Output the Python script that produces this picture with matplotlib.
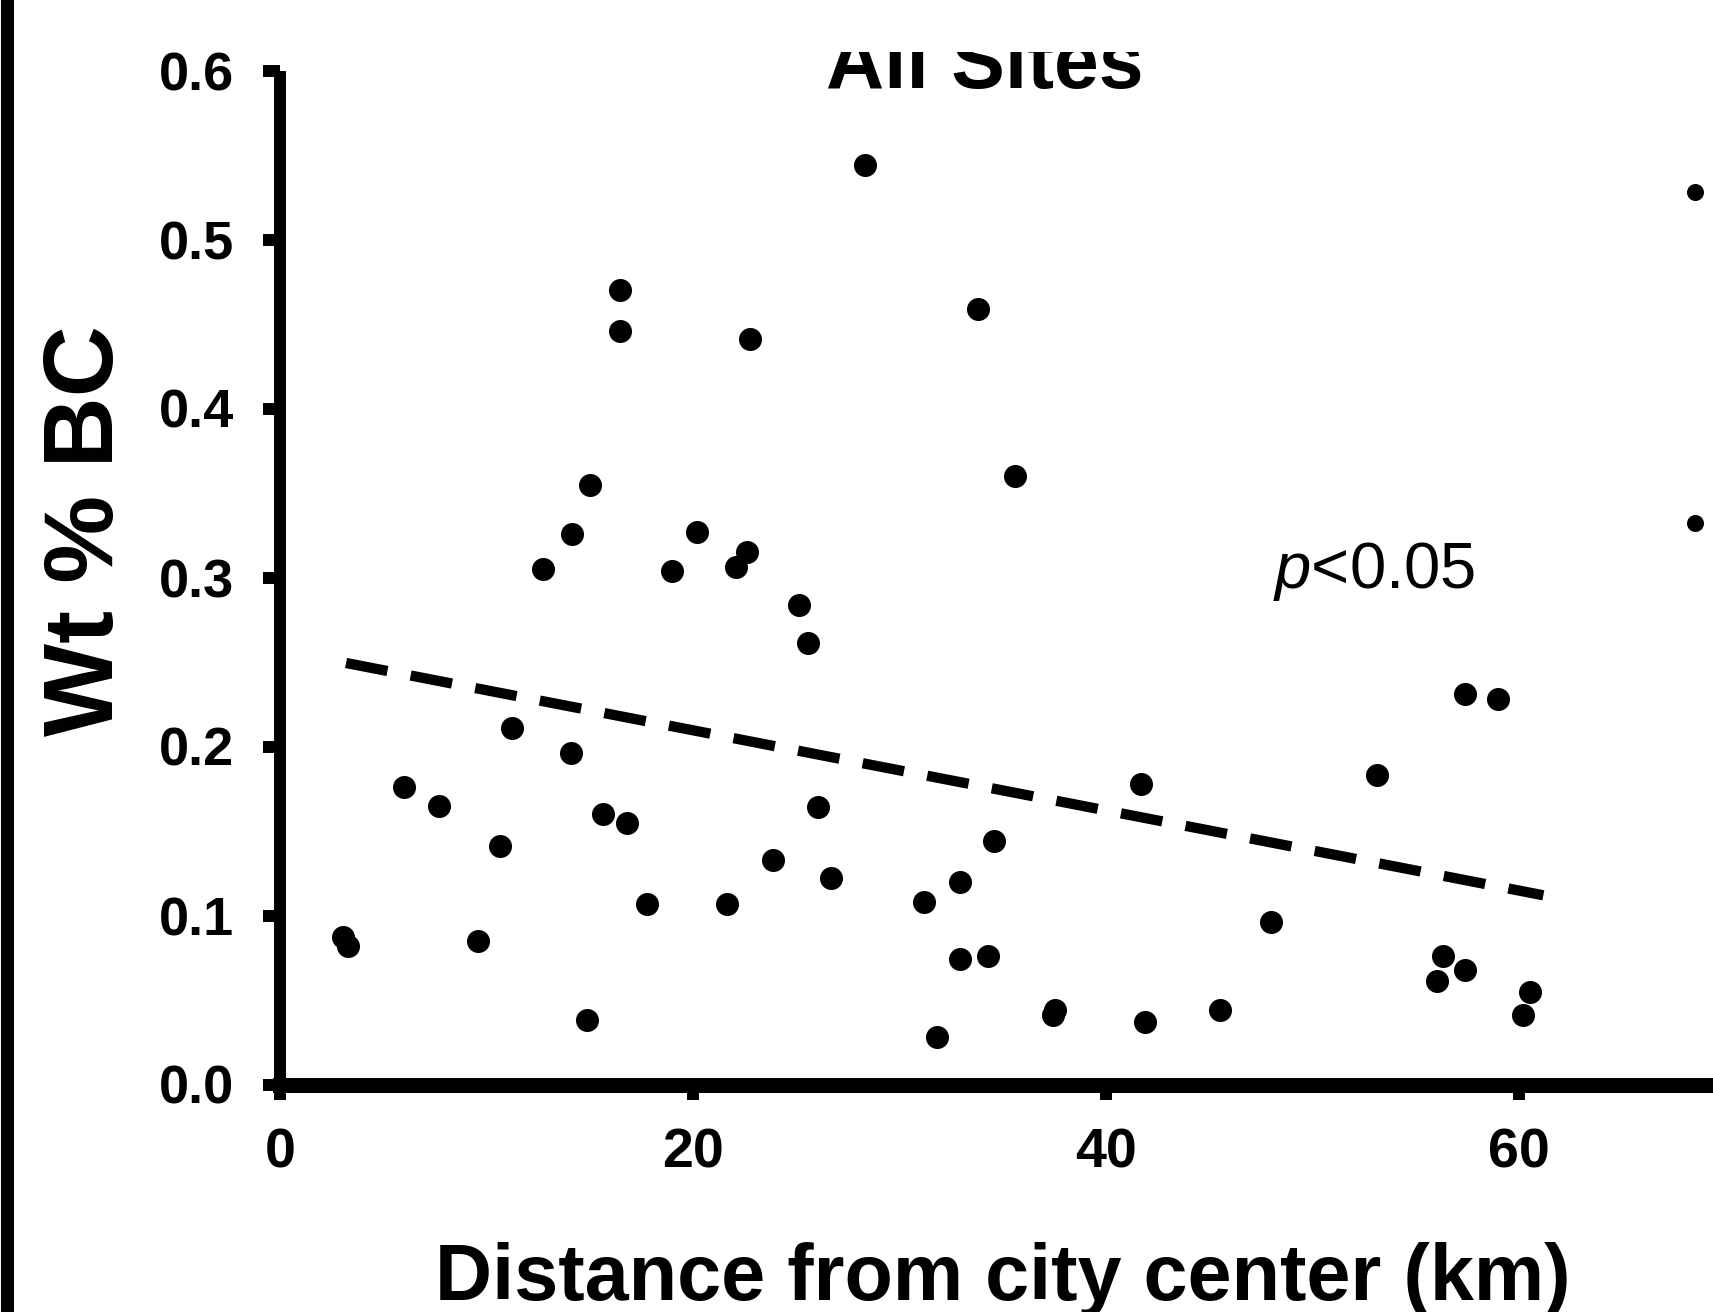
import numpy as np
import matplotlib
matplotlib.use('Agg')
import matplotlib.pyplot as plt
from matplotlib.lines import Line2D
from matplotlib.patches import Rectangle

plt.rcParams['font.family'] = ['Liberation Sans', 'DejaVu Sans']
plt.rcParams['mathtext.fontset'] = 'custom'
plt.rcParams['mathtext.it'] = 'Liberation Sans:italic'
plt.rcParams['mathtext.rm'] = 'Liberation Sans'

# ---- Data ----
dist_km = [3.07, 3.28, 6.03, 7.72, 9.57, 10.68, 11.26, 12.74, 14.16, 14.11,
           15.01, 14.85, 15.64, 16.49, 16.49, 16.81, 17.76, 18.97, 20.19, 21.67,
           22.09, 22.62, 22.78, 23.89, 25.16, 25.58, 26.06, 26.69, 28.33, 31.18,
           31.82, 32.93, 32.93, 33.83, 34.30, 34.57, 35.62, 37.47, 37.53, 41.70,
           41.91, 45.56, 47.99, 53.12, 56.03, 56.34, 57.40, 57.40, 58.99, 60.20,
           60.57]
bc_wt = [0.087, 0.082, 0.176, 0.165, 0.085, 0.141, 0.211, 0.305, 0.326, 0.196,
         0.355, 0.038, 0.160, 0.470, 0.446, 0.155, 0.107, 0.304, 0.327, 0.107,
         0.306, 0.315, 0.441, 0.133, 0.284, 0.261, 0.164, 0.122, 0.544, 0.108,
         0.028, 0.120, 0.074, 0.459, 0.076, 0.144, 0.360, 0.041, 0.044, 0.178,
         0.037, 0.044, 0.096, 0.183, 0.061, 0.076, 0.231, 0.068, 0.228, 0.041,
         0.055]
# two sites at the cut right edge
far_km = [68.55, 68.55]
far_bc = [0.528, 0.332]

# linear fit shown as dashed line
fit_slope = -0.00237
fit_intercept = 0.257
fit_range = [3.2, 61.2]

xticks = [0, 20, 40, 60]
yticks = [0.0, 0.1, 0.2, 0.3, 0.4, 0.5, 0.6]

W, H = 1713, 1312
fig = plt.figure(figsize=(W / 100, H / 100), dpi=100)
ax = fig.add_axes([280 / W, 1 - 1084.5 / H, 1445 / W, 1014 / H])
ax.set_xlim(0, 70)
ax.set_ylim(0, 0.6)

ax.scatter(dist_km, bc_wt, s=275, color='black', linewidths=0, zorder=3)
ax.scatter(far_km, far_bc, s=150, color='black', linewidths=0, zorder=3, clip_on=False)

fx = np.array(fit_range)
ax.plot(fx, fit_intercept + fit_slope * fx, color='black', lw=7.4,
        linestyle=(0, (4.1, 2.3)), dash_capstyle='butt', zorder=2)

ax.text(48.1, 0.2936, '$p$<0.05', fontsize=47, va='baseline', ha='left')

for s in ['top', 'right']:
    ax.spines[s].set_visible(False)
ax.spines['left'].set_linewidth(8.6)
ax.spines['bottom'].set_linewidth(10.8)
ax.spines['left'].set_capstyle('butt')

ax.set_xticks(xticks)
ax.set_xticklabels([str(t) for t in xticks], fontsize=40, fontweight='bold')
ax.set_yticks(yticks)
ax.set_yticklabels([f'{t:.1f}' for t in yticks], fontsize=39, fontweight='heavy')
ax.tick_params(axis='y', direction='out', length=12, width=8.6, pad=21)
ax.tick_params(axis='x', direction='out', length=11, width=8.6, pad=20)

# labels and title
fig.text(1003 / W, 1 - 1300 / H, 'Distance from city center (km)', fontsize=57,
         fontweight='bold', ha='center', va='baseline')
fig.text(88 / W, 1 - 531 / H, 'Wt % BC', fontsize=71, fontweight='bold',
         rotation=90, ha='center', va='center')
fig.text(985 / W, 1 - 88 / H, 'All Sites', fontsize=58, fontweight='bold',
         ha='center', va='baseline')

# white band covering the top of the cropped figure, and left frame line
fig.add_artist(Rectangle((15 / W, 1 - 52 / H), 1, 52 / H, transform=fig.transFigure,
                         facecolor='white', edgecolor='none', zorder=10))
fig.add_artist(Line2D([6.5 / W, 6.5 / W], [0, 1], transform=fig.transFigure,
                      color='black', lw=9.4, zorder=11))

fig.savefig('out.png', dpi=100)
